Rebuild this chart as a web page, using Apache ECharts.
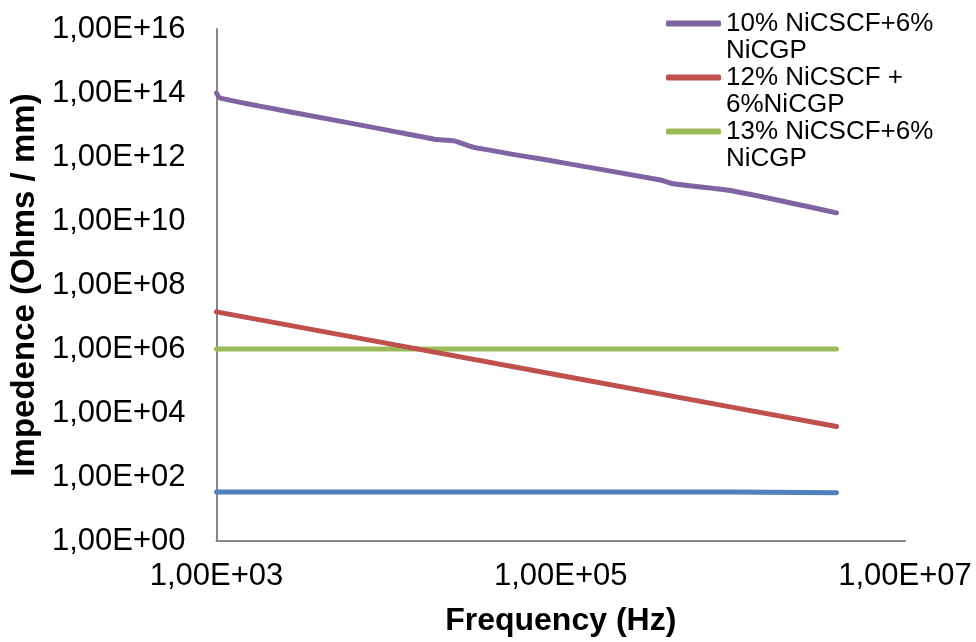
<!DOCTYPE html>
<html><head><meta charset="utf-8">
<script src="https://cdn.jsdelivr.net/npm/echarts@6/dist/echarts.min.js"></script>
<style>html,body{margin:0;padding:0;background:#fff}#c{width:976px;height:642px}</style>
</head><body><div id="c"></div>
<script>
// Data (frequency in Hz, impedance in Ohms/mm)
const seriesNames = ['10% NiCSCF+6%\nNiCGP', '12% NiCSCF +\n6%NiCGP', '13% NiCSCF+6%\nNiCGP', 'Series 4'];
const freqPurple = [1000, 1050, 3000, 10000, 18400, 24000, 31300, 100000, 380000, 452000, 1000000, 4000000];
const zPurple    = [1.0e14, 6.9e13, 2.3e13, 6.8e12, 3.6e12, 3.2e12, 2.0e12, 6.8e11, 1.9e11, 1.45e11, 8.7e10, 1.8e10];
const freqRed    = [1000, 10000, 100000, 1000000, 4000000];
const zRed       = [1.45e7, 1.47e6, 1.48e5, 1.5e4, 3.8e3];
const freqGreen  = [1000, 10000, 100000, 1000000, 4000000];
const zGreen     = [1.0e6, 1.0e6, 1.0e6, 1.0e6, 1.0e6];
const freqBlue   = [1000, 10000, 100000, 1000000, 4000000];
const zBlue      = [34, 34, 34, 34, 32];
const xTickExp   = [3, 5, 7];
const xTickLabels = ['1,00E+03', '1,00E+05', '1,00E+07'];
const yTickExp   = [0, 2, 4, 6, 8, 10, 12, 14, 16];
const yTickLabels = ['1,00E+00','1,00E+02','1,00E+04','1,00E+06','1,00E+08','1,00E+10','1,00E+12','1,00E+14','1,00E+16'];

const FONT = '"Liberation Sans", Arial, sans-serif';
const toPts = (fs, zs) => fs.map((f, i) => [Math.log10(f), Math.log10(zs[i])]);
const lbl = (exps, labels) => v => { const i = exps.findIndex(e => Math.abs(e - v) < 1e-9); return i >= 0 ? labels[i] : ''; };

const mk = (name, color, fs, zs, smooth) => ({
  name, type: 'line', symbol: 'none', showSymbol: false, smooth: smooth || false,
  data: toPts(fs, zs),
  lineStyle: { color, width: 5, cap: 'round', join: 'round' },
  itemStyle: { color },
  emphasis: { disabled: true }
});

const chart = echarts.init(document.getElementById('c'));
chart.setOption({
  animation: false,
  backgroundColor: '#fff',
  grid: { left: 215, right: 71, top: 29, bottom: 101, containLabel: false },
  legend: {
    orient: 'vertical', left: 666, top: -17, padding: 0, itemGap: -27,
    itemWidth: 55, itemHeight: 6, icon: 'roundRect',
    data: seriesNames.slice(0, 3),
    formatter: name => '\n' + name,
    textStyle: { fontFamily: FONT, fontSize: 26, lineHeight: 27, color: '#000' }
  },
  xAxis: {
    type: 'value', min: 3, max: 7, interval: 2,
    name: 'Frequency (Hz)', nameLocation: 'middle', nameGap: 64,
    nameTextStyle: { fontFamily: FONT, fontSize: 32, fontWeight: 'bold', color: '#000' },
    axisLine: { lineStyle: { color: '#868686', width: 2 } },
    axisTick: { show: false }, splitLine: { show: false },
    axisLabel: { fontFamily: FONT, fontSize: 31, color: '#000', margin: 20, formatter: lbl(xTickExp, xTickLabels) }
  },
  yAxis: {
    type: 'value', min: 0, max: 16, interval: 2,
    name: 'Impedence (Ohms / mm)', nameLocation: 'middle', nameGap: 158,
    nameTextStyle: { fontFamily: FONT, fontSize: 33, fontWeight: 'bold', color: '#000' },
    axisLine: { show: true, lineStyle: { color: '#868686', width: 2 } },
    axisTick: { show: false }, splitLine: { show: false },
    axisLabel: { fontFamily: FONT, fontSize: 31, color: '#000', margin: 31, formatter: lbl(yTickExp, yTickLabels) }
  },
  series: [
    mk(seriesNames[3], '#4F81BD', freqBlue, zBlue),
    mk(seriesNames[2], '#9BBB59', freqGreen, zGreen),
    mk(seriesNames[1], '#C0504D', freqRed, zRed),
    mk(seriesNames[0], '#8064A2', freqPurple, zPurple, 0.2)
  ]
});
</script></body></html>
